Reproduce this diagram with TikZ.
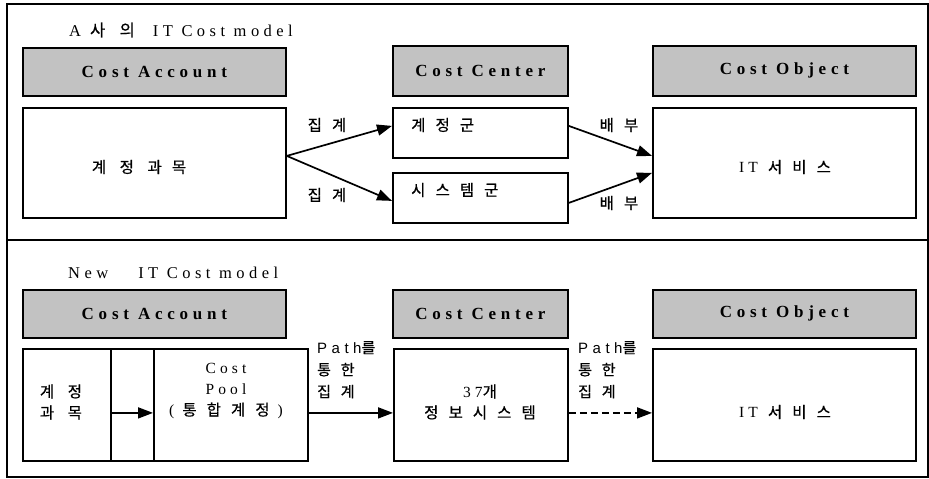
\documentclass[tikz,border=0pt]{standalone}
\usepackage{fontspec}
\setmainfont{Liberation Serif}
\newfontfamily\krfont{Noto Sans CJK KR}[LetterSpace=65, FakeBold=0.6]
\newfontfamily\serifls{Liberation Serif}[LetterSpace=27]
\newfontfamily\hdrfont{Liberation Serif}[LetterSpace=28]
\newfontfamily\sansls{Liberation Sans}[LetterSpace=30]
\newcommand\kr[1]{{\krfont #1}}
\usetikzlibrary{arrows.meta}

\begin{document}
\begin{tikzpicture}[x=1pt,y=-1pt,
  frame/.style={draw, line width=1.4pt},
  hdr/.style={draw, line width=1.8pt, fill=black!24, anchor=north west, inner sep=0pt,
    font=\fontsize{17}{19}\selectfont\hdrfont\bfseries},
  box/.style={draw, line width=1.8pt, anchor=north west, inner sep=0pt},
  txt/.style={inner sep=0pt, align=center, font=\fontsize{15.5}{21}\selectfont\serifls},
  ttl/.style={inner sep=0pt, anchor=west, font=\fontsize{16.5}{20}\selectfont\serifls},
  lbl/.style={inner sep=0pt, align=left, font=\fontsize{15}{22}\selectfont\sansls},
  arr/.style={line width=1.7pt, -{Triangle[length=15pt,width=11pt]}},
  darr/.style={arr, dash pattern=on 7pt off 4pt}
]
\useasboundingbox (0,0) rectangle (929,479);

% outer frame and divider
\draw[frame] (7,4) rectangle (928,477);
\draw[frame] (7,240) -- (928,240);

% ---------- upper model ----------
\node[ttl] (t1) at (69,30) {A\hspace{9pt}\kr{사 의}\hspace{18pt}IT Cost model};

\node[hdr, minimum width=263pt, minimum height=48pt] (hA) at (22,47) {Cost Account};
\node[hdr, minimum width=175pt, minimum height=50pt] (hB) at (392,45) {Cost Center};
\node[hdr, minimum width=263pt, minimum height=50pt] (hC) at (652,45) {Cost Object};

\node[box, minimum width=263pt, minimum height=110pt] (bA) at (22,107) {};
\node[txt] (tA) at (139,167) {\kr{계 정 과목}};

\node[box, minimum width=175pt, minimum height=50pt] (bB1) at (392,107) {};
\node[txt, anchor=west] (tB1) at (411,125) {\kr{계정군}};
\node[box, minimum width=175pt, minimum height=50pt] (bB2) at (392,172) {};
\node[txt, anchor=west] (tB2) at (411,190) {\kr{시스템군}};

\node[box, minimum width=263pt, minimum height=110pt] (bC) at (652,107) {};
\node[txt] (tC) at (785,167) {IT\hspace{10pt}\kr{서비스}};

\draw[arr] ([yshift=7pt]bA.east) -- ([yshift=7pt]bB1.west);
\draw[arr] ([yshift=7pt]bA.east) -- ([yshift=-3pt]bB2.west);
\draw[arr] ([yshift=7pt]bB1.east) -- ([yshift=7pt]bC.west);
\draw[arr] ([yshift=-5pt]bB2.east) -- ([yshift=-10pt]bC.west);

\node[txt] (s1) at (327,125) {\kr{집계}};
\node[txt] (s2) at (327,195) {\kr{집계}};
\node[txt] (s3) at (619,125) {\kr{배부}};
\node[txt] (s4) at (619,203) {\kr{배부}};

% ---------- lower model ----------
\node[ttl] (t2) at (68,273) {New\hspace{30pt}IT Cost model};

\node[hdr, minimum width=263pt, minimum height=48pt] (hA2) at (22,289) {Cost Account};
\node[hdr, minimum width=175pt, minimum height=48pt] (hB2) at (392,289) {Cost Center};
\node[hdr, minimum width=263pt, minimum height=48pt] (hC2) at (652,289) {Cost Object};

\node[box, minimum width=88pt, minimum height=112pt] (k1) at (22,348) {};
\node[box, minimum width=43pt, minimum height=112pt] (k2) at (110,348) {};
\node[box, minimum width=154pt, minimum height=112pt] (k3) at (153,348) {};
\node[txt] (tk1) at (61,402) {\kr{계 정}\\\kr{과 목}};
\node[txt] (tk3) at (226,391) {Cost\\Pool\\( \kr{통합계정} )};

\node[box, minimum width=174pt, minimum height=112pt] (bB3) at (393,348) {};
\node[txt] (tB3) at (480,402) {37\kr{개}\\\kr{정보시스템}};

\node[box, minimum width=263pt, minimum height=112pt] (bC3) at (652,348) {};
\node[txt] (tC3) at (785,412) {IT\hspace{10pt}\kr{서비스}};

\draw[arr] ([yshift=-8pt]k1.east) -- ([yshift=-8pt]k3.west);
\draw[arr] ([yshift=-8pt]k3.east) -- ([yshift=-8pt]bB3.west);
\draw[darr] ([yshift=-8pt]bB3.east) -- ([yshift=-8pt]bC3.west);

\node[lbl, anchor=north west] (p1) at (317,341) {Path\kr{를}\\\kr{통한}\\\kr{집계}};
\node[lbl, anchor=north west] (p2) at (578,341) {Path\kr{를}\\\kr{통한}\\\kr{집계}};
\end{tikzpicture}
\end{document}
